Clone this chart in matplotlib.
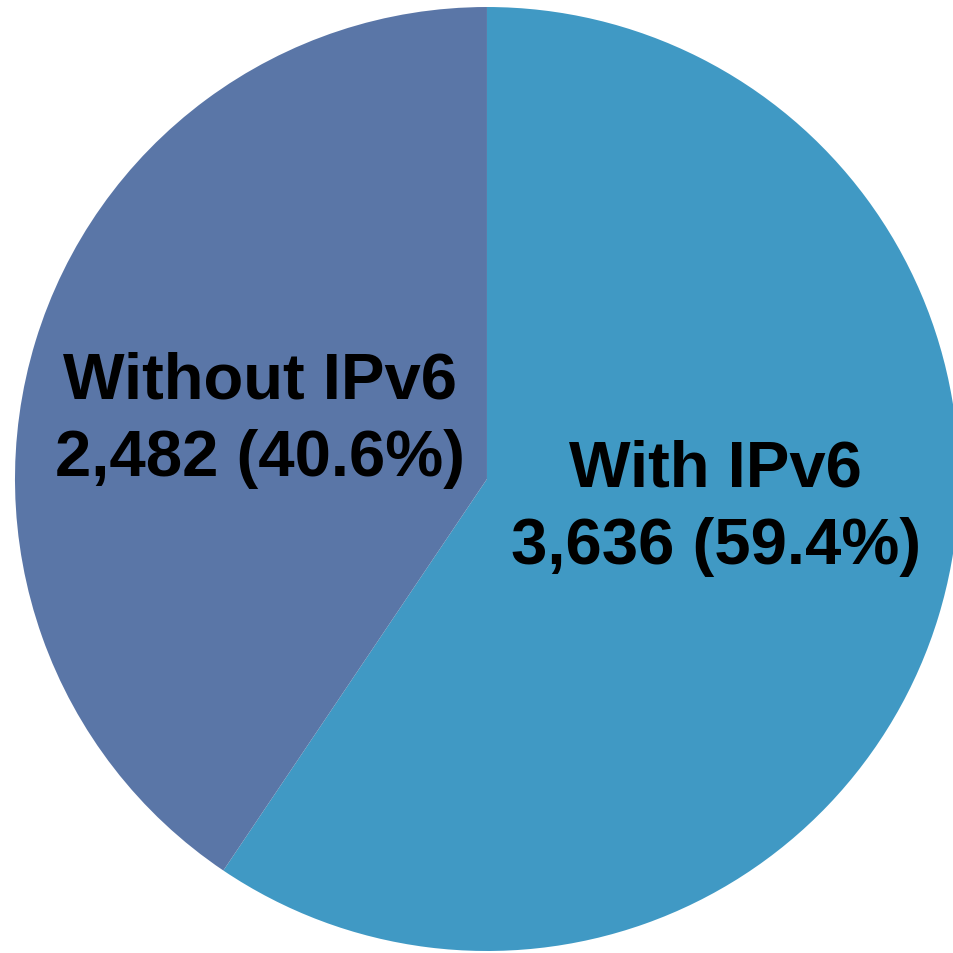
import matplotlib.pyplot as plt

# data
labels = ['With IPv6', 'Without IPv6']
counts = [3636, 2482]
colors = ['#4099C4', '#5A76A7']

total = sum(counts)
texts = ['%s\n%s (%.1f%%)' % (lab, format(c, ','), 100.0 * c / total)
         for lab, c in zip(labels, counts)]

fig = plt.figure(figsize=(9.54, 9.54), dpi=100)
# axes placed so the pie sits where it does in the original
ax = fig.add_axes([0.0157, 0.0021, 0.9895, 0.9895])
ax.pie(counts, colors=colors, startangle=90, counterclock=False,
       radius=1.0, wedgeprops=dict(linewidth=0))
ax.set_xlim(-1, 1)
ax.set_ylim(-1, 1)
ax.set_aspect('equal')
ax.axis('off')

label_pos = [(0.485, -0.06), (-0.481, 0.127)]
for (x, y), t in zip(label_pos, texts):
    ax.text(x, y, t, ha='center', va='center', fontsize=47,
            fontweight='bold', family='Liberation Sans', linespacing=1.36)

fig.savefig('out.png', dpi=100)
